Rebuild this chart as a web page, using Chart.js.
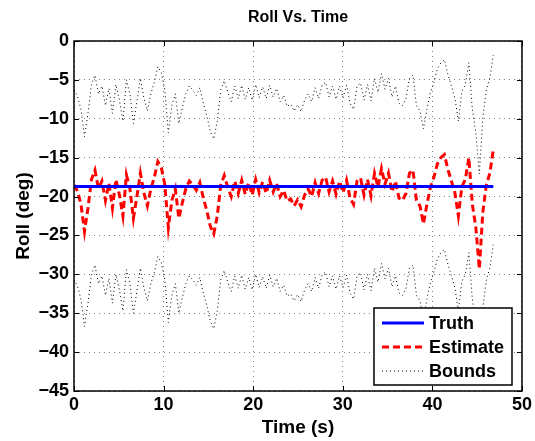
<!DOCTYPE html>
<html><head><meta charset="utf-8">
<script src="https://cdn.jsdelivr.net/npm/chart.js@4.4.1/dist/chart.umd.min.js"></script>
<style>html,body{margin:0;padding:0;background:#fff;}</style>
</head><body>
<canvas id="c" width="535" height="441"></canvas>
<script>
const time = [0,0.39,0.78,1.17,1.56,1.95,2.34,2.73,3.12,3.51,
3.9,4.29,4.68,5.07,5.46,5.85,6.24,6.63,7.02,7.41,
7.8,8.19,8.58,8.97,9.36,9.75,10.14,10.53,10.92,11.31,
11.7,12.09,12.48,12.87,13.26,13.65,14.04,14.43,14.82,15.21,
15.6,15.99,16.38,16.77,17.16,17.55,17.94,18.33,18.72,19.11,
19.5,19.89,20.28,20.67,21.06,21.45,21.84,22.23,22.62,23.01,
23.4,23.79,24.18,24.57,24.96,25.35,25.74,26.13,26.52,26.91,
27.3,27.69,28.08,28.47,28.86,29.25,29.64,30.03,30.42,30.81,
31.2,31.59,31.98,32.37,32.76,33.15,33.54,33.93,34.32,34.71,
35.1,35.49,35.88,36.27,36.66,37.05,37.44,37.83,38.22,38.61,
39.0,39.39,39.78,40.17,40.56,40.95,41.34,41.73,42.12,42.51,
42.9,43.29,43.68,44.07,44.46,44.85,45.24,45.63,46.02,46.41,
46.8];

const estimate = [-18.5,-19.3,-21.0,-24.5,-21.5,-17.8,-16.6,-19.0,-18.0,-20.5,
-18.3,-21.5,-17.8,-19.8,-22.5,-17.2,-19.0,-22.8,-20.0,-17.0,
-19.5,-21.2,-19.0,-17.5,-15.5,-16.3,-18.5,-24.0,-20.5,-19.0,
-22.8,-20.8,-19.0,-18.0,-18.5,-19.2,-18.2,-20.2,-21.8,-23.8,
-24.8,-22.5,-18.5,-17.3,-18.8,-20.0,-18.0,-19.6,-17.9,-19.7,
-18.2,-19.8,-17.8,-19.5,-18.1,-19.6,-17.9,-19.4,-18.3,-20.0,
-19.2,-20.6,-20.3,-21.2,-20.4,-21.3,-19.8,-19.0,-20.0,-18.2,
-19.6,-17.9,-17.5,-19.4,-18.0,-19.7,-18.0,-19.5,-17.9,-20.2,
-21.0,-18.0,-17.6,-19.8,-17.8,-19.9,-17.0,-18.8,-16.4,-18.4,
-17.0,-19.4,-18.0,-20.2,-20.5,-19.6,-17.0,-16.6,-20.5,-21.2,
-23.5,-21.0,-18.8,-17.5,-15.8,-15.0,-14.6,-16.5,-18.0,-19.5,
-22.5,-18.7,-17.8,-15.0,-21.0,-24.0,-29.3,-22.0,-18.5,-17.0,
-14.0];

const upperBound = [-6.3,-7.1,-8.8,-12.3,-9.3,-5.6,-4.4,-6.8,-5.8,-8.3,
-6.1,-9.3,-5.6,-7.6,-10.3,-5.0,-6.8,-10.6,-7.8,-4.8,
-7.3,-9.0,-6.8,-5.3,-3.3,-4.1,-6.3,-11.8,-8.3,-6.8,
-10.6,-8.6,-6.8,-5.8,-6.3,-7.0,-6.0,-8.0,-9.6,-11.6,
-12.6,-10.3,-6.3,-5.1,-6.6,-7.8,-5.8,-7.4,-5.7,-7.5,
-6.0,-7.6,-5.6,-7.3,-5.9,-7.4,-5.7,-7.2,-6.1,-7.8,
-7.0,-8.4,-8.1,-9.0,-8.2,-9.1,-7.6,-6.8,-7.8,-6.0,
-7.4,-5.7,-5.3,-7.2,-5.8,-7.5,-5.8,-7.3,-5.7,-8.0,
-8.8,-5.8,-5.4,-7.6,-5.6,-7.7,-4.8,-6.6,-4.2,-6.2,
-4.8,-7.2,-5.8,-8.0,-8.3,-7.4,-4.8,-4.4,-8.3,-9.0,
-11.3,-8.8,-6.6,-5.3,-3.6,-2.8,-2.4,-4.3,-5.8,-7.3,
-10.3,-6.5,-5.6,-2.8,-8.8,-11.8,-17.1,-9.8,-6.3,-4.8,
-1.8];

const lowerBound = [-30.7,-31.5,-33.2,-36.7,-33.7,-30.0,-28.8,-31.2,-30.2,-32.7,
-30.5,-33.7,-30.0,-32.0,-34.7,-29.4,-31.2,-35.0,-32.2,-29.2,
-31.7,-33.4,-31.2,-29.7,-27.7,-28.5,-30.7,-36.2,-32.7,-31.2,
-35.0,-33.0,-31.2,-30.2,-30.7,-31.4,-30.4,-32.4,-34.0,-36.0,
-37.0,-34.7,-30.7,-29.5,-31.0,-32.2,-30.2,-31.8,-30.1,-31.9,
-30.4,-32.0,-30.0,-31.7,-30.3,-31.8,-30.1,-31.6,-30.5,-32.2,
-31.4,-32.8,-32.5,-33.4,-32.6,-33.5,-32.0,-31.2,-32.2,-30.4,
-31.8,-30.1,-29.7,-31.6,-30.2,-31.9,-30.2,-31.7,-30.1,-32.4,
-33.2,-30.2,-29.8,-32.0,-30.0,-32.1,-29.2,-31.0,-28.6,-30.6,
-29.2,-31.6,-30.2,-32.4,-32.7,-31.8,-29.2,-28.8,-32.7,-33.4,
-35.7,-33.2,-31.0,-29.7,-28.0,-27.2,-26.8,-28.7,-30.2,-31.7,
-34.7,-30.9,-30.0,-27.2,-33.2,-36.2,-41.5,-34.2,-30.7,-29.2,
-26.2];

const truthTime = [0, 46.8];
const truthValue = [-18.7, -18.7];

const xTicks = [0, 10, 20, 30, 40, 50];
const yTicks = [0, -5, -10, -15, -20, -25, -30, -35, -40, -45];

const titleText = 'Roll Vs. Time';
const FONT = "'Liberation Sans', Arial, Helvetica, sans-serif";

function pts(xs, ys) { return xs.map((t, i) => ({x: t, y: ys[i]})); }

const boxPlugin = {
  id: 'matlabBox',
  afterDatasetsDraw(chart) {
    const {ctx, chartArea: a, scales: {x, y}} = chart;
    ctx.save();
    ctx.strokeStyle = '#000';
    ctx.lineWidth = 1;
    ctx.setLineDash([]);
    ctx.beginPath();
    for (const v of xTicks) {
      const px = Math.round(x.getPixelForValue(v)) + 0.5;
      ctx.moveTo(px, a.bottom); ctx.lineTo(px, a.bottom - 5);
      ctx.moveTo(px, a.top); ctx.lineTo(px, a.top + 5);
    }
    for (const v of yTicks) {
      const py = Math.round(y.getPixelForValue(v)) + 0.5;
      ctx.moveTo(a.left, py); ctx.lineTo(a.left + 5, py);
      ctx.moveTo(a.right, py); ctx.lineTo(a.right - 5, py);
    }
    ctx.stroke();
    ctx.lineWidth = 1.5;
    ctx.strokeRect(a.left, a.top, a.right - a.left, a.bottom - a.top);
    ctx.restore();
  },
  afterDraw(chart) {
    const {ctx, chartArea: a} = chart;
    ctx.save();
    // title centred over the plot area
    ctx.fillStyle = '#000';
    ctx.font = 'bold 16px ' + FONT;
    ctx.textAlign = 'center';
    ctx.textBaseline = 'middle';
    ctx.fillText(titleText, (a.left + a.right) / 2, 18);
    // legend box
    const w = 138, h = 77;
    const lx = a.right - 10 - w, ly = a.bottom - 6 - h;
    ctx.fillStyle = '#fff';
    ctx.fillRect(lx, ly, w, h);
    ctx.strokeStyle = '#000';
    ctx.lineWidth = 1.5;
    ctx.setLineDash([]);
    ctx.strokeRect(lx, ly, w, h);
    const items = [0, 1, 2].map(i => chart.data.datasets[i]);
    items.forEach((ds, i) => {
      const cy = ly + 15 + i * 24;
      ctx.beginPath();
      ctx.strokeStyle = ds.borderColor;
      ctx.lineWidth = ds.borderWidth;
      ctx.setLineDash(ds.borderDash || []);
      ctx.moveTo(lx + 8, cy); ctx.lineTo(lx + 50, cy);
      ctx.stroke();
      ctx.setLineDash([]);
      ctx.fillStyle = '#000';
      ctx.font = 'bold 18px ' + FONT;
      ctx.textBaseline = 'middle';
      ctx.textAlign = 'left';
      ctx.fillText(ds.label, lx + 55, cy + 1);
    });
    ctx.restore();
  }
};

new Chart(document.getElementById('c'), {
  type: 'line',
  data: {
    datasets: [
      {label: 'Truth', data: pts(truthTime, truthValue), borderColor: '#0000ff', borderWidth: 3, pointRadius: 0, tension: 0},
      {label: 'Estimate', data: pts(time, estimate), borderColor: '#ff0000', borderWidth: 3, borderDash: [7, 4], pointRadius: 0, tension: 0},
      {label: 'Bounds', data: pts(time, upperBound), borderColor: '#000000', borderWidth: 1, borderDash: [1, 3], pointRadius: 0, tension: 0},
      {label: 'Bounds lower', data: pts(time, lowerBound), borderColor: '#000000', borderWidth: 1, borderDash: [1, 3], pointRadius: 0, tension: 0}
    ]
  },
  options: {
    responsive: false,
    animation: false,
    devicePixelRatio: 1,
    layout: {padding: {left: 0, right: 12, top: 41, bottom: 0}},
    plugins: {
      legend: {display: false},
      tooltip: {enabled: false},
      title: {display: false}
    },
    scales: {
      x: {
        type: 'linear', min: 0, max: 50,
        afterBuildTicks(s) { s.ticks = xTicks.map(v => ({value: v})); },
        afterFit(s) { s.height = 50; },
        grid: {color: 'rgba(0,0,0,0.5)', drawTicks: false, lineWidth: 1},
        border: {display: false, dash: [1, 4]},
        ticks: {color: '#000', padding: 3, maxRotation: 0, font: {family: FONT, size: 18, weight: 'bold'}},
        title: {display: true, text: 'Time (s)', color: '#000', font: {family: FONT, size: 19, weight: 'bold'}, padding: {top: 0, bottom: 2}}
      },
      y: {
        type: 'linear', min: -45, max: 0,
        afterBuildTicks(s) { s.ticks = yTicks.map(v => ({value: v})); },
        afterFit(s) { s.width = 74; },
        grid: {color: 'rgba(0,0,0,0.5)', drawTicks: false, lineWidth: 1},
        border: {display: false, dash: [1, 4]},
        ticks: {color: '#000', padding: 5, font: {family: FONT, size: 18, weight: 'bold'},
          callback: v => String(v).replace('-', '\u2212')},
        title: {display: true, text: 'Roll (deg)', color: '#000', font: {family: FONT, size: 19, weight: 'bold'}, padding: {top: 12, bottom: 0}}
      }
    }
  },
  plugins: [boxPlugin]
});
</script>
</body></html>
